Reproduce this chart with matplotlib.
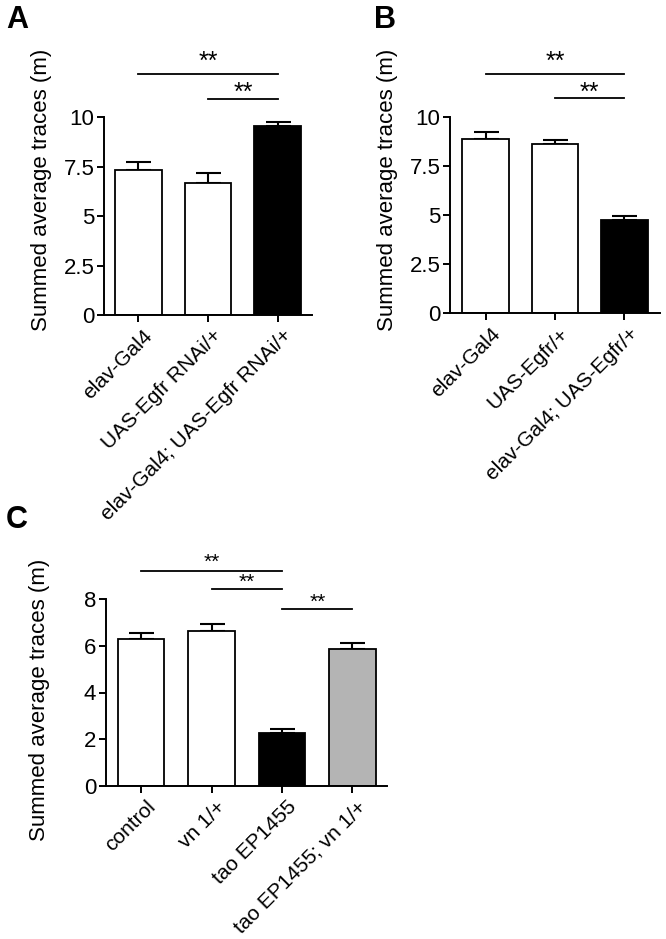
import matplotlib
matplotlib.use('Agg')
import matplotlib.pyplot as plt

plt.rcParams['font.family'] = ['Liberation Sans', 'DejaVu Sans']

W, H = 666, 939

# Panel A data
a_labels = ['elav-Gal4', 'UAS-Egfr RNAi/+', 'elav-Gal4; UAS-Egfr RNAi/+']
a_means = [7.32, 6.67, 9.55]
a_sem = [0.40, 0.48, 0.20]
a_colors = ['white', 'white', 'black']

# Panel B data
b_labels = ['elav-Gal4', 'UAS-Egfr/+', 'elav-Gal4; UAS-Egfr/+']
b_means = [8.88, 8.62, 4.74]
b_sem = [0.35, 0.22, 0.22]
b_colors = ['white', 'white', 'black']

# Panel C data
c_labels = ['control', 'vn 1/+', 'tao EP1455', 'tao EP1455; vn 1/+']
c_means = [6.28, 6.62, 2.27, 5.88]
c_sem = [0.27, 0.30, 0.17, 0.25]
c_colors = ['white', 'white', 'black', '#b4b4b4']

ylabel = 'Summed average traces (m)'
PT = 72 / 100  # points per pixel at dpi 100


def px_axes(fig, left, top, right, bottom):
    return fig.add_axes([left / W, 1 - bottom / H, (right - left) / W, (bottom - top) / H])


def draw_panel(ax, labels, means, sem, colors, width, xlim, ylim, yticks, yticklabels,
               brackets, star_size):
    x = list(range(len(labels)))
    ax.bar(x, means, width=width, color=colors, edgecolor='black', linewidth=1.3, zorder=2)
    ax.errorbar(x, means, yerr=[[0] * len(sem), sem], fmt='none', ecolor='black',
                elinewidth=1.5, capsize=9, capthick=1.5, zorder=1)
    ax.set_xlim(*xlim)
    ax.set_ylim(*ylim)
    ax.set_yticks(yticks)
    ax.set_yticklabels(yticklabels)
    ax.set_xticks(x)
    ax.set_xticklabels([])
    # rotated category labels, anchored a little right of each tick like the original
    for i, lab in zip(x, labels):
        ax.annotate(lab, xy=(i, 0), xycoords=('data', 'axes fraction'),
                    xytext=(11 * PT, -18 * PT), textcoords='offset points',
                    rotation=45, ha='right', va='center', rotation_mode='anchor',
                    fontsize=15, annotation_clip=False)
    for s in ['top', 'right']:
        ax.spines[s].set_visible(False)
    for s in ['left', 'bottom']:
        ax.spines[s].set_linewidth(1.4)
    ax.tick_params(axis='both', direction='out', length=5, width=1.4, labelsize=16)
    ax.tick_params(axis='y', pad=2)
    ax.set_ylabel(ylabel, fontsize=16)
    for (i, j, y, off) in brackets:
        ax.plot([i, j], [y, y], color='black', linewidth=1.3, clip_on=False)
        ax.annotate('**', xy=((i + j) / 2, y), xytext=(0, off * PT),
                    textcoords='offset points', ha='center', va='baseline',
                    fontsize=star_size, annotation_clip=False)


fig = plt.figure(figsize=(W / 100, H / 100), dpi=100)

ax_a = px_axes(fig, 104, 117, 312, 315)
draw_panel(ax_a, a_labels, a_means, a_sem, a_colors, 0.67, (-0.49, 2.49), (0, 10),
           [0, 2.5, 5, 7.5, 10], ['0', '2.5', '5', '7.5', '10'],
           [(0, 2, 12.17, 5.5), (1, 2, 10.9, -1)], 18)
ax_a.yaxis.set_label_coords(-0.25, 0.63)

ax_b = px_axes(fig, 450, 117, 660, 313)
draw_panel(ax_b, b_labels, b_means, b_sem, b_colors, 0.68, (-0.52, 2.52), (0, 10),
           [0, 2.5, 5, 7.5, 10], ['0', '2.5', '5', '7.5', '10'],
           [(0, 2, 12.2, 5.5), (1, 2, 10.95, -1)], 18)
ax_b.yaxis.set_label_coords(-0.25, 0.63)

ax_c = px_axes(fig, 106, 599, 387, 786)
draw_panel(ax_c, c_labels, c_means, c_sem, c_colors, 0.66, (-0.5, 3.49), (0, 8),
           [0, 2, 4, 6, 8], ['0', '2', '4', '6', '8'],
           [(0, 2, 9.19, 3.5), (1, 2, 8.42, 1.5), (2, 3, 7.56, 1.5)], 15)
ax_c.yaxis.set_label_coords(-0.2, 0.46)

fig.text(6 / W, 1 - 28 / H, 'A', fontsize=22, fontweight='bold', va='baseline')
fig.text(374 / W, 1 - 28 / H, 'B', fontsize=22, fontweight='bold', va='baseline')
fig.text(6 / W, 1 - 528 / H, 'C', fontsize=22, fontweight='bold', va='baseline')

fig.savefig('out.png', dpi=100)
